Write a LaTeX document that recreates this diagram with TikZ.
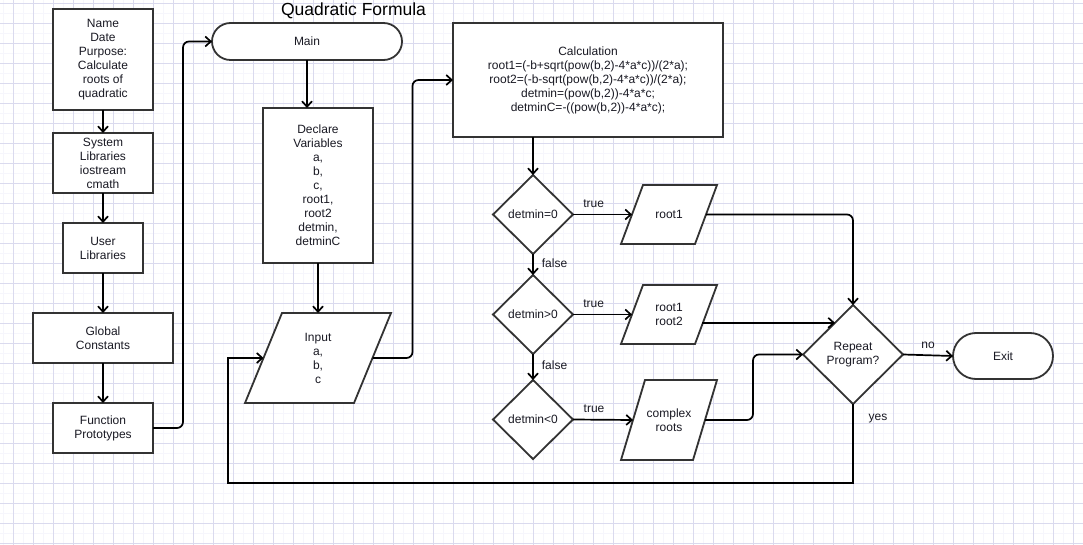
\documentclass[tikz,border=0pt]{standalone}
\usepackage{fontspec}
\setmainfont{Liberation Sans}
\usetikzlibrary{arrows.meta,shapes.geometric,calc}
\newcommand\dfont{\fontsize{12}{14}\selectfont}
\definecolor{gridmaj}{RGB}{218,218,238}
\definecolor{gridmin}{RGB}{246,246,252}
\definecolor{bord}{RGB}{51,51,51}
\definecolor{txt}{RGB}{25,25,35}
\pgfdeclarelayer{bg}
\pgfdeclarelayer{mid}
\pgfsetlayers{bg,mid,main}
\begin{document}
\begin{tikzpicture}[x=1pt,y=-1pt,
  box/.style={draw=bord,line width=1.8pt,fill=white,align=center,inner sep=0pt,outer sep=0pt,font=\dfont,text=txt},
  ptext/.style={align=center,inner sep=0pt,outer sep=0pt,font=\dfont,text=txt},
  pshape/.style={draw=bord,line width=1.8pt,fill=white},
  dia/.style={box,shape=diamond},
  conn/.style={line width=1.7pt,black,-{Straight Barb[length=5.5pt,width=10pt]}},
  lab/.style={font=\dfont,text=txt,inner sep=0pt}]
\useasboundingbox (0,0) rectangle (1083,545);
\begin{pgfonlayer}{bg}
  \fill[white] (0,0) rectangle (1083,545);
  \foreach \x in {3,23,...,1083} \draw[gridmin,line width=0.6pt] (\x,0) -- (\x,545);
  \foreach \y in {13,33,...,545} \draw[gridmin,line width=0.6pt] (0,\y) -- (1083,\y);
  \foreach \x in {13,33,...,1083} \draw[gridmaj,line width=0.8pt] (\x,0) -- (\x,545);
  \foreach \y in {3,23,...,545} \draw[gridmaj,line width=0.8pt] (0,\y) -- (1083,\y);
\end{pgfonlayer}

% title
\node[font=\fontsize{17.5}{20}\selectfont,text=black,anchor=base,inner sep=0pt] (title) at (353.5,16) {Quadratic Formula};

% left column
\node[box,minimum width=100,minimum height=101] (b1) at (103,59.5) {Name\\Date\\Purpose:\\Calculate\\roots of\\quadratic};
\node[box,minimum width=100,minimum height=60] (b2) at (103,163) {System\\Libraries\\iostream\\cmath};
\node[box,minimum width=80,minimum height=50] (b3) at (103,248) {User\\Libraries};
\node[box,minimum width=140,minimum height=50] (b4) at (103,338) {Global\\Constants};
\node[box,minimum width=100,minimum height=50] (b5) at (103,428) {Function\\Prototypes};

% middle
\node[box,rounded corners=18.5,minimum width=190,minimum height=37] (main) at (307,41.5) {Main};
\node[box,minimum width=110,minimum height=155] (decl) at (318,185.5) {Declare\\Variables\\a,\\b,\\c,\\root1,\\root2\\detmin,\\detminC};
\node[ptext,minimum width=146,minimum height=90] (inp) at (318,358) {Input\\a,\\b,\\c};

% calculation
\node[box,minimum width=270,minimum height=114] (calc) at (588,80) {Calculation\\root1=(-b+sqrt(pow(b,2)-4*a*c))/(2*a);\\root2=(-b-sqrt(pow(b,2)-4*a*c))/(2*a);\\detmin=(pow(b,2))-4*a*c;\\detminC=-((pow(b,2))-4*a*c);};

% decisions
\node[dia,minimum width=80,minimum height=79] (d1) at (533,214.5) {detmin=0};
\node[dia,minimum width=80,minimum height=79] (d2) at (533,314.5) {detmin>0};
\node[dia,minimum width=80,minimum height=79] (d3) at (533,419.5) {detmin<0};

% outputs
\node[ptext,minimum width=96,minimum height=59] (p1) at (669,214.5) {root1};
\node[ptext,minimum width=96,minimum height=59] (p2) at (669,314.5) {root1\\root2};
\node[ptext,minimum width=96,minimum height=80] (p3) at (669,420) {complex\\roots};

\node[dia,minimum width=100,minimum height=99] (rep) at (853,354.5) {Repeat\\Program?};
\node[box,rounded corners=23,minimum width=100,minimum height=46] (exit) at (1003,356) {Exit};

\begin{pgfonlayer}{mid}
  \draw[pshape] (inp.south west) -- ($(inp.north west)+(37,0)$) -- (inp.north east) -- ($(inp.south east)+(-37,0)$) -- cycle;
  \draw[pshape] (p1.south west) -- ($(p1.north west)+(22,0)$) -- (p1.north east) -- ($(p1.south east)+(-22,0)$) -- cycle;
  \draw[pshape] (p2.south west) -- ($(p2.north west)+(22,0)$) -- (p2.north east) -- ($(p2.south east)+(-22,0)$) -- cycle;
  \draw[pshape] (p3.south west) -- ($(p3.north west)+(24,0)$) -- (p3.north east) -- ($(p3.south east)+(-24,0)$) -- cycle;
\end{pgfonlayer}

% connectors
\draw[conn] (b1) -- (b2);
\draw[conn] (b2) -- (b3);
\draw[conn] (b3) -- (b4);
\draw[conn] (b4) -- (b5);
\draw[conn,rounded corners=6] (b5.east) -- ++(30,0) |- (main.west);
\draw[conn] (main.south) -- (main.south |- decl.north);
\draw[conn] (decl.south) -- (inp.north);
\draw[conn,rounded corners=6] ($(inp.east)+(-18.5,0)$) -- ++(40,0) |- (calc.west);
\draw[conn] (calc.south -| d1.north) -- (d1.north);
\draw[conn] (d1.south) -- node[lab,right=8pt,pos=0.45] {false} (d2.north);
\draw[conn] (d2.south) -- node[lab,right=8pt,pos=0.45] {false} (d3.north);
\draw[conn] (d1.east) -- node[lab,above=6pt,pos=0.35] {true} ($(p1.west)+(11,0)$);
\draw[conn] (d2.east) -- node[lab,above=6pt,pos=0.35] {true} ($(p2.west)+(11,0)$);
\draw[conn] (d3.east) -- node[lab,above=6pt,pos=0.35] {true} ($(p3.west)+(12,0)$);
\draw[conn,rounded corners=6] ($(p1.east)+(-11,0)$) -| (rep.north);
\coordinate (r2) at ($(rep.west)!0.64!(rep.north)$);
\draw[conn] ($(r2 -| p2.east)+(-15,0)$) -- (r2);
\draw[conn,rounded corners=6] ($(p3.east)+(-12,0)$) -- ++(48,0) |- (rep.west);
\draw[conn] (rep.east) -- node[lab,above=6pt,pos=0.5] {no} (exit.west);
\coordinate (lb) at (228,483);
\draw[conn] (rep.south) |- (lb) |- ($(inp.west)+(18.5,0)$);
\node[lab] (yes) at (878,419) {yes};
\end{tikzpicture}
\end{document}
